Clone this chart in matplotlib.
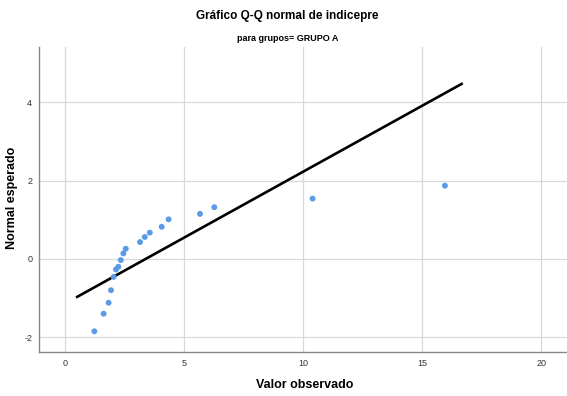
import matplotlib
matplotlib.use("Agg")
import matplotlib.pyplot as plt

# valores observados e normal esperado (Q-Q) - GRUPO A
valor_observado = [1.22, 1.61, 1.82, 1.92, 2.03, 2.13, 2.23, 2.33, 2.44, 2.54,
                   3.14, 3.34, 3.55, 4.05, 4.34, 5.66, 6.26, 10.39, 15.95]
normal_esperado = [-1.85, -1.40, -1.12, -0.80, -0.46, -0.27, -0.20, -0.03, 0.14, 0.26,
                   0.43, 0.56, 0.67, 0.82, 1.01, 1.15, 1.32, 1.54, 1.87]

# reta de referência
linha_x = [0.50, 16.65]
linha_y = [-0.97, 4.47]

x_ticks = [0, 5, 10, 15, 20]
y_ticks = [-2, 0, 2, 4]

plt.rcParams["font.family"] = ["Liberation Sans", "DejaVu Sans"]
plt.rcParams["axes.unicode_minus"] = False

fig = plt.figure(figsize=(5.67, 3.96), dpi=100)
ax = fig.add_axes([0.069, 0.110, 0.931, 0.771])

ax.plot(linha_x, linha_y, color="black", linewidth=1.9, zorder=3)
ax.scatter(valor_observado, normal_esperado, s=18, color="#5b9be6",
           edgecolors="none", zorder=4)

ax.set_xlim(-1.1, 21.08)
ax.set_ylim(-2.39, 5.41)
ax.set_xticks(x_ticks)
ax.set_yticks(y_ticks)
ax.tick_params(length=0, labelsize=6.5, labelcolor="#333333")
ax.tick_params(axis="x", pad=5)
ax.tick_params(axis="y", pad=5)
ax.grid(True, color="#d9d9d9", linewidth=0.9)
ax.set_axisbelow(True)
for lado in ["top", "right"]:
    ax.spines[lado].set_visible(False)
for lado in ["left", "bottom"]:
    ax.spines[lado].set_color("#888888")
    ax.spines[lado].set_linewidth(1.0)

# rótulos dos eixos
fig.text(0.538, 0.027, "Valor observado", ha="center", va="center",
         fontsize=9, fontweight="bold")
fig.text(0.022, 0.500, "Normal esperado", ha="center", va="center",
         rotation=90, fontsize=9, fontweight="bold")

fig.text(0.507, 0.960, "Gráfico Q-Q normal de indicepre", ha="center", va="center",
         fontsize=8.5, fontweight="bold")
fig.text(0.507, 0.903, "para grupos= GRUPO A", ha="center", va="center",
         fontsize=6.5, fontweight="bold")

fig.savefig("out.png", dpi=100)
